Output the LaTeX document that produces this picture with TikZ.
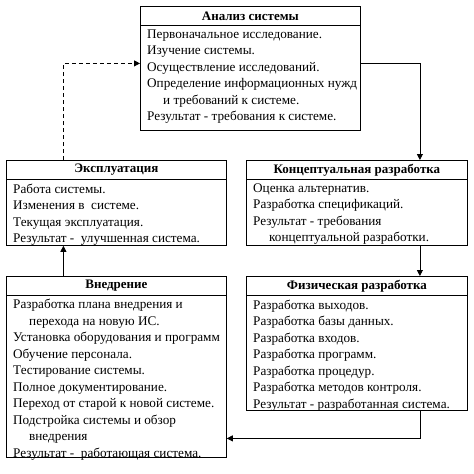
\documentclass[tikz,border=0pt]{standalone}
\usepackage{fontspec}
\setmainfont{Liberation Serif}
\usepackage{tikz}
\usetikzlibrary{calc,positioning,arrows.meta}
\tikzset{
  stage/.style={rectangle, draw=black, line width=0.8pt, anchor=north west, inner sep=0pt},
  stagetitle/.style={anchor=center, inner sep=0pt, font=\fontsize{13pt}{16.6pt}\selectfont\bfseries},
  stagebody/.style={anchor=north west, align=left, inner sep=0pt, font=\fontsize{13.2pt}{16.5pt}\selectfont},
  line/.style={draw, line width=0.8pt, -{Triangle[width=6pt,length=6pt]}},
  dline/.style={line, dash pattern=on 4pt off 3pt},
}
\newcommand{\hang}{\hspace*{16pt}}
\begin{document}
\begin{tikzpicture}[x=1pt, y=-1pt]
  \useasboundingbox (0,0) rectangle (474,474);
  % boxes
  \node[stage, minimum width=220pt, minimum height=124pt] (anal) at (140,6) {};
  \node[stage, minimum width=220pt, minimum height=85pt] (expl) at (6,160) {};
  \node[stage, minimum width=221pt, minimum height=85pt] (konc) at (246,160) {};
  \node[stage, minimum width=220pt, minimum height=181pt] (vned) at (6,276) {};
  \node[stage, minimum width=221pt, minimum height=134pt] (phys) at (246,276) {};

  % titles
  \foreach \b/\t in {anal/Анализ системы, expl/Эксплуатация, konc/Концептуальная разработка,
                     vned/Внедрение, phys/Физическая разработка}{
    \node[stagetitle] (\b t) at ([yshift=-10pt]\b.north) {\t};
    \draw[line width=0.8pt] ([yshift=-19pt]\b.north west) -- ([yshift=-19pt]\b.north east);
  }

  % texts
  \node[stagebody] (analb) at ([xshift=7pt,yshift=-23.5pt]anal.north west) {%
    Первоначальное исследование.\\
    Изучение системы.\\
    Осуществление исследований.\\
    Определение информационных нужд\\
    \hang и требований к системе.\\
    Результат - требования к системе.};
  \node[stagebody] (explb) at ([xshift=7pt,yshift=-23.5pt]expl.north west) {%
    Работа системы.\\
    Изменения в \ системе.\\
    Текущая эксплуатация.\\
    Результат - \ улучшенная система.};
  \node[stagebody] (koncb) at ([xshift=7pt,yshift=-23.5pt]konc.north west) {%
    Оценка альтернатив.\\
    Разработка спецификаций.\\
    Результат - требования\\
    \hang концептуальной разработки.};
  \node[stagebody] (vnedb) at ([xshift=7pt,yshift=-23pt]vned.north west) {%
    Разработка плана внедрения и\\
    \hang перехода на новую ИС.\\
    Установка оборудования и программ\\
    Обучение персонала.\\
    Тестирование системы.\\
    Полное документирование.\\
    Переход от старой к новой системе.\\
    Подстройка системы и обзор\\
    \hang внедрения\\
    Результат - \ работающая система.};
  \node[stagebody] (physb) at ([xshift=7pt,yshift=-23.5pt]phys.north west) {%
    Разработка выходов.\\
    Разработка базы данных.\\
    Разработка входов.\\
    Разработка программ.\\
    Разработка процедур.\\
    Разработка методов контроля.\\
    Результат - разработанная система.};

  % connectors
  \draw[line] ([yshift=5pt]anal.east) -| ([xshift=63pt]konc.north);
  \draw[line] ([xshift=63pt]konc.south) -- ([xshift=63pt]phys.north);
  \draw[line] ([xshift=63pt]phys.south) |- ([yshift=-71.5pt]vned.east);
  \draw[line] ([xshift=-53pt]vned.north) -- ([xshift=-53pt]expl.south);
  \draw[dline] ([xshift=-53pt]expl.north) |- ([yshift=5pt]anal.west);
\end{tikzpicture}
\end{document}
